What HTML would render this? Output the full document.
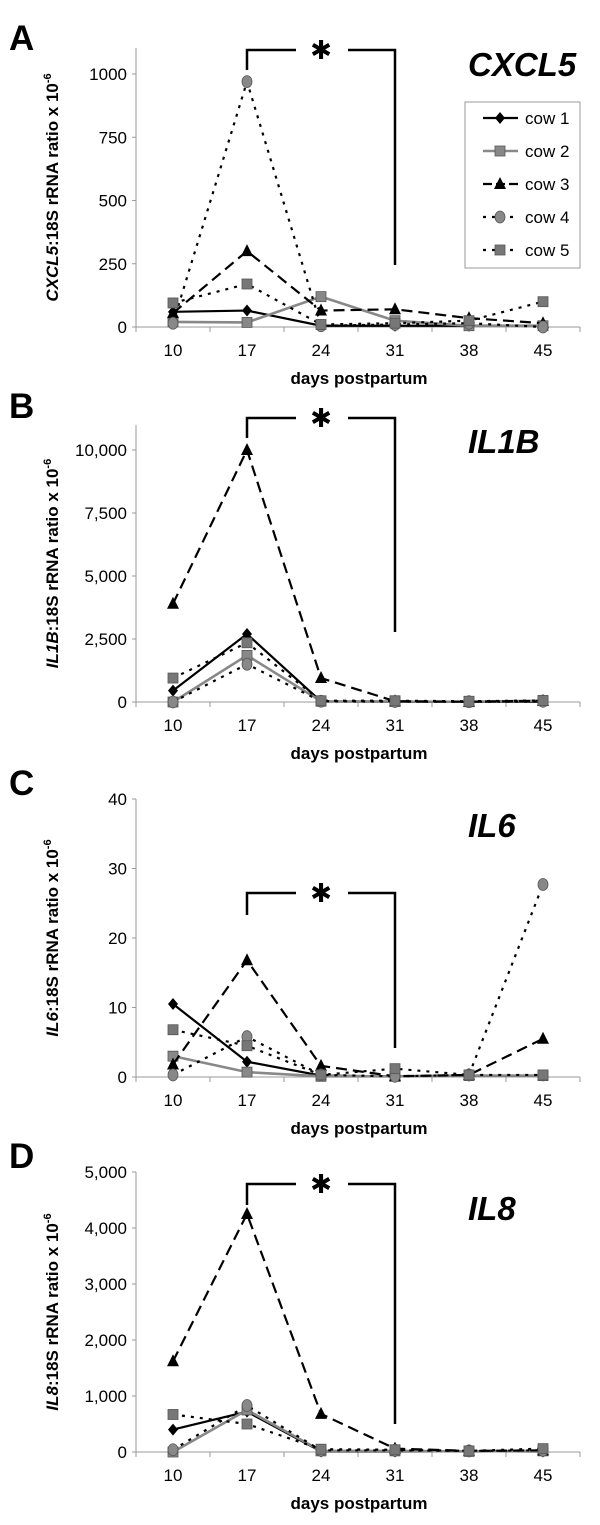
<!DOCTYPE html>
<html><head><meta charset="utf-8"><style>
html,body{margin:0;padding:0;background:#fff;}
svg{display:block;font-family:"Liberation Sans",Arial,sans-serif;}
</style></head><body>
<svg id="fig" width="600" height="1525" viewBox="0 0 600 1525" xmlns="http://www.w3.org/2000/svg"></svg>
<script>
const categories = [10,17,24,31,38,45];
const seriesNames = ["cow 1","cow 2","cow 3","cow 4","cow 5"];
const cxcl5_cow1 = [60,65,5,5,5,5];
const cxcl5_cow2 = [20,18,120,25,5,5];
const cxcl5_cow3 = [55,300,65,70,35,15];
const cxcl5_cow4 = [15,970,5,10,15,0];
const cxcl5_cow5 = [95,170,10,15,25,100];
const il1b_cow1 = [450,2700,20,10,10,10];
const il1b_cow2 = [0,1850,30,20,10,50];
const il1b_cow3 = [3900,10000,950,30,10,50];
const il1b_cow4 = [0,1500,30,20,10,30];
const il1b_cow5 = [950,2350,50,50,30,60];
const il6_cow1 = [10.5,2.2,0.2,0.1,0.2,0.2];
const il6_cow2 = [3,0.7,0.1,0.1,0.2,0.2];
const il6_cow3 = [1.8,16.8,1.6,0.1,0.3,5.5];
const il6_cow4 = [0.3,5.8,0.3,0.1,0.3,27.7];
const il6_cow5 = [6.8,4.5,0.3,1.2,0.3,0.3];
const il8_cow1 = [400,720,10,10,10,10];
const il8_cow2 = [0,750,20,20,10,20];
const il8_cow3 = [1620,4250,680,60,20,30];
const il8_cow4 = [40,830,30,30,20,30];
const il8_cow5 = [670,500,50,40,20,60];
const ticksA = [0,250,500,750,1000];
const tickLabelsA = ["0","250","500","750","1000"];
const ticksB = [0,2500,5000,7500,10000];
const tickLabelsB = ["0","2,500","5,000","7,500","10,000"];
const ticksC = [0,10,20,30,40];
const tickLabelsC = ["0","10","20","30","40"];
const ticksD = [0,1000,2000,3000,4000,5000];
const tickLabelsD = ["0","1,000","2,000","3,000","4,000","5,000"];

const NS="http://www.w3.org/2000/svg";
const svg=document.getElementById('fig');
function mk(tag,attrs,parent){const e=document.createElementNS(NS,tag);for(const k in attrs)e.setAttribute(k,attrs[k]);(parent||svg).appendChild(e);return e;}
const styles=[
 {stroke:"#000",w:2.2,dash:"",marker:"diamond",fill:"#000"},
 {stroke:"#888",w:2.6,dash:"",marker:"square",fill:"#888"},
 {stroke:"#000",w:2.2,dash:"11,6",marker:"triangle",fill:"#000"},
 {stroke:"#000",w:2.2,dash:"3,6",marker:"circle",fill:"#888"},
 {stroke:"#000",w:2.2,dash:"3,6",marker:"square",fill:"#777"}
];
function marker(g,type,x,y,fill){
 let m;
 if(type==="diamond")m=mk('polygon',{points:`${x},${y-6} ${x+5},${y} ${x},${y+6} ${x-5},${y}`,fill:fill},g);
 else if(type==="square")m=mk('rect',{x:x-5,y:y-5,width:10,height:10,fill:fill,stroke:"#555","stroke-width":0.8},g);
 else if(type==="triangle")m=mk('polygon',{points:`${x},${y-7} ${x+6},${y+5} ${x-6},${y+5}`,fill:fill},g);
 else m=mk('ellipse',{cx:x,cy:y,rx:5,ry:6,fill:fill,stroke:"#555","stroke-width":0.8},g);
 return m;
}
const X0=136,X1=580,step=74,xc0=173;
function xS(i){return xc0+i*step;}
function panel(o){
 const g=mk('g',{});
 
 
 const yS=v=>o.zero-(v/o.max)*(o.zero-o.topVal);
 const lt=mk('text',{x:9,y:o.letterY,"font-size":35,"font-weight":"bold"},g);lt.textContent=o.letter;
 
 mk('line',{x1:X0,y1:o.axisTop,x2:X0,y2:o.zero+4,stroke:"#999","stroke-width":1},g);
 mk('line',{x1:X0,y1:o.zero,x2:X1,y2:o.zero,stroke:"#999","stroke-width":1},g);
 for(let k=0;k<=6;k++)mk('line',{x1:X0+k*step,y1:o.zero,x2:X0+k*step,y2:o.zero+5,stroke:"#999"},g);
 o.ticks.forEach((t,i)=>{const y=yS(t);mk('line',{x1:X0-4,y1:y,x2:X0,y2:y,stroke:"#999"},g);
  const tx=mk('text',{x:127,y:y+6,"font-size":17,"text-anchor":"end"},g);tx.textContent=o.tickLabels[i];
  });
 categories.forEach((c,i)=>{const tx=mk('text',{x:xS(i),y:o.zero+29,"font-size":17,"text-anchor":"middle"},g);tx.textContent=c;
  });
 const xl=mk('text',{x:359,y:o.zero+57,"font-size":17,"font-weight":"bold","text-anchor":"middle"},g);xl.textContent="days postpartum";
 
 const cy=(o.axisTop+o.zero)/2;
 const yt=mk('text',{x:0,y:0,"font-size":17,"font-weight":"bold","text-anchor":"middle",transform:`translate(58,${cy}) rotate(-90)`},g);
 
 const t1=mk('tspan',{"font-style":"italic"},yt);t1.textContent=o.gene;
 const t2=mk('tspan',{},yt);t2.textContent=":18S rRNA ratio x 10";
 const t3=mk('tspan',{"font-size":11,dy:-7},yt);t3.textContent="-6";
 const ti=mk('text',{x:o.titleX,y:o.titleY,"font-size":33,"font-weight":"bold","font-style":"italic"},g);ti.textContent=o.gene;
 
 const bg=mk('g',{},g);
 mk('polyline',{points:`${xS(1)},${o.bLeft} ${xS(1)},${o.bTop} ${xS(1)+49},${o.bTop}`,fill:"none",stroke:"#000","stroke-width":2.5},bg);
 mk('polyline',{points:`${xS(3)-47},${o.bTop} ${xS(3)},${o.bTop} ${xS(3)},${o.bRight}`,fill:"none",stroke:"#000","stroke-width":2.5},bg);
 const as=mk('text',{x:(xS(1)+xS(3))/2,y:o.bTop+9,"font-size":26,"font-weight":"bold","text-anchor":"middle","font-family":"DejaVu Sans, sans-serif"},bg);as.textContent="\u2731";
 o.series.forEach((arr,s)=>{const st=styles[s];
  const sg=mk('g',{},g);
  const pts=arr.map((v,i)=>xS(i)+","+yS(v)).join(" ");
  const pl=mk('polyline',{points:pts,fill:"none",stroke:st.stroke,"stroke-width":st.w},sg);
  if(st.dash)pl.setAttribute('stroke-dasharray',st.dash);
  arr.forEach((v,i)=>{const m=marker(sg,st.marker,xS(i),yS(v),st.fill);
   });
 });
 return g;
}
panel({name:"cxcl5",letter:"A",letterY:50,gene:"CXCL5",zero:327,topVal:74,max:1000,axisTop:48,ticks:ticksA,tickLabels:tickLabelsA,titleX:468,titleY:76,bTop:50,bLeft:70,bRight:265,
 series:[cxcl5_cow1,cxcl5_cow2,cxcl5_cow3,cxcl5_cow4,cxcl5_cow5]});
panel({name:"il1b",letter:"B",letterY:418,gene:"IL1B",zero:702,topVal:450,max:10000,axisTop:425,ticks:ticksB,tickLabels:tickLabelsB,titleX:468,titleY:453,bTop:418,bLeft:438,bRight:632,
 series:[il1b_cow1,il1b_cow2,il1b_cow3,il1b_cow4,il1b_cow5]});
panel({name:"il6",letter:"C",letterY:795,gene:"IL6",zero:1077,topVal:799,max:40,axisTop:799,ticks:ticksC,tickLabels:tickLabelsC,titleX:468,titleY:837,bTop:893,bLeft:915,bRight:1048,
 series:[il6_cow1,il6_cow2,il6_cow3,il6_cow4,il6_cow5]});
panel({name:"il8",letter:"D",letterY:1168,gene:"IL8",zero:1452,topVal:1172,max:5000,axisTop:1172,ticks:ticksD,tickLabels:tickLabelsD,titleX:468,titleY:1220,bTop:1184,bLeft:1205,bRight:1424,
 series:[il8_cow1,il8_cow2,il8_cow3,il8_cow4,il8_cow5]});
// legend
const lg=mk('g',{});


mk('rect',{x:465,y:102,width:115,height:166,fill:"#fff",stroke:"#999","stroke-width":1},lg);
seriesNames.forEach((n,s)=>{const y=118+s*33;const st=styles[s];
 const eg=mk('g',{},lg);
 
 
 const l=mk('line',{x1:483,y1:y,x2:518,y2:y,stroke:st.stroke,"stroke-width":st.w},eg);
 if(st.dash)l.setAttribute('stroke-dasharray',st.dash==="11,6"?"9,4":"3,6");
 marker(eg,st.marker,500,y,st.fill);
 const t=mk('text',{x:525,y:y+6,"font-size":17},eg);t.textContent=n;});
</script>
</body></html>
